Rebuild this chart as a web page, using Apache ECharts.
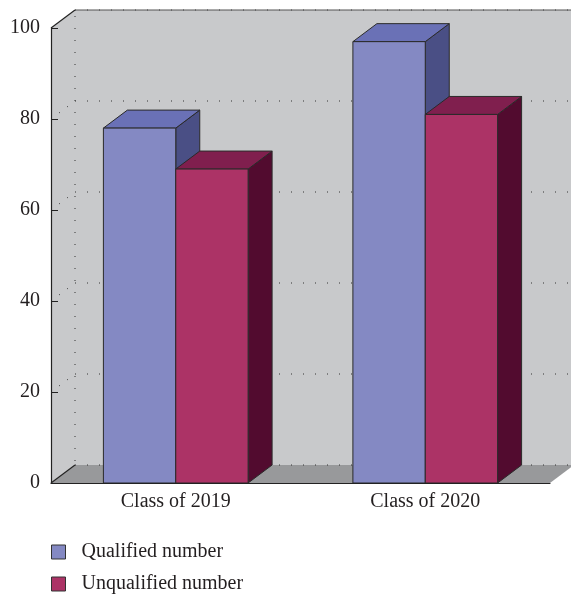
<!DOCTYPE html>
<html>
<head>
<meta charset="utf-8">
<script src="https://cdn.jsdelivr.net/npm/echarts@6/dist/echarts.min.js"></script>
<style>
  html, body { margin: 0; padding: 0; background: #fff; }
  #chart { width: 571px; height: 596px; }
</style>
</head>
<body>
<div id="chart"></div>
<script>
// Pass counts per graduating class
const categories = ['Class of 2019', 'Class of 2020'];
const qualified = [78, 97];
const unqualified = [69, 81];
const yTicks = [0, 20, 40, 60, 80, 100];

// Depth of the pseudo-3D box (px)
const DX = 24, DY = 18;
const FONT = '"Liberation Serif", "DejaVu Serif", serif';

const palettes = [
  { front: '#8489C3', top: '#6A71B6', side: '#4A4F85' },
  { front: '#AC3366', top: '#801F4E', side: '#520B2F' }
];
const EDGE = '#2a2a2a';

function poly(points, fill, stroke) {
  return {
    type: 'polygon',
    shape: { points: points },
    style: { fill: fill, stroke: stroke || null, lineWidth: stroke ? 1 : 0 }
  };
}
function line(x1, y1, x2, y2, stroke, width, dash) {
  return {
    type: 'line',
    shape: { x1: x1, y1: y1, x2: x2, y2: y2 },
    style: { stroke: stroke, lineWidth: width || 1, lineDash: dash || null, fill: null }
  };
}

// Back wall, side wall, floor and dotted grid
function renderWalls(params, api) {
  const cs = params.coordSys;
  const L = cs.x, R = cs.x + cs.width, T = cs.y, B = cs.y + cs.height;
  const children = [];
  children.push(poly([[L, T], [L + DX, T - DY], [L + DX, B - DY], [L, B]], '#C8C9CB'));
  children.push(poly([[L + DX, T - DY], [R + DX, T - DY], [R + DX, B - DY], [L + DX, B - DY]], '#C8C9CB'));
  children.push(poly([[L, B], [L + DX, B - DY], [R + DX, B - DY], [R, B]], '#98999B'));
  const dots = [1, 11];
  yTicks.forEach(function (v) {
    const y = api.coord([0, v])[1];
    children.push(line(L + DX, y - DY, R + DX, y - DY, '#333', 1, dots));
    if (v > 0 && v < 100) children.push(line(L, y, L + DX, y - DY, '#333', 1, [1, 9]));
  });
  children.push(line(L + DX, T - DY + 6, L + DX, B - DY, '#333', 1, dots));
  children.push(line(L + DX, T - DY, R + DX, T - DY, '#555', 1.2));
  children.push(line(L, T, L + DX, T - DY, '#222', 1.2));
  children.push(line(L, B, L + DX, B - DY, '#222', 1.2));
  return { type: 'group', children: children };
}

// One pseudo-3D bar: front face, top face, right side face
function makeBarRenderer(k) {
  return function (params, api) {
    const cat = api.value(0);
    const val = api.value(1);
    const c = api.coord([cat, val]);
    const base = api.coord([cat, 0])[1];
    const bw = api.size([1, 0])[0] * 0.29;
    const x1 = k === 0 ? c[0] - bw : c[0];
    const x2 = x1 + bw;
    const yt = c[1];
    const p = palettes[k];
    return {
      type: 'group',
      children: [
        poly([[x2, yt], [x2 + DX, yt - DY], [x2 + DX, base - DY], [x2, base]], p.side, EDGE),
        poly([[x1, yt], [x1 + DX, yt - DY], [x2 + DX, yt - DY], [x2, yt]], p.top, EDGE),
        poly([[x1, yt], [x2, yt], [x2, base], [x1, base]], p.front, EDGE)
      ]
    };
  };
}

const chart = echarts.init(document.getElementById('chart'), null, { renderer: 'canvas' });
chart.setOption({
  animation: false,
  backgroundColor: '#fff',
  grid: { left: 51, right: 21, top: 28, bottom: 113 },
  xAxis: {
    type: 'category',
    data: categories,
    z: 10,
    axisLine: { lineStyle: { color: '#222', width: 1.2 } },
    axisTick: { inside: true, length: 8, lineStyle: { color: '#222' } },
    axisLabel: { margin: 9, color: '#231f20', fontFamily: FONT, fontSize: 20 }
  },
  yAxis: {
    type: 'value',
    min: 0, max: 100, interval: 20,
    z: 10,
    axisLine: { show: true, lineStyle: { color: '#222', width: 1.2 } },
    axisTick: { show: true, inside: true, length: 7, lineStyle: { color: '#222' } },
    splitLine: { show: false },
    axisLabel: { margin: 11, color: '#231f20', fontFamily: FONT, fontSize: 20 }
  },
  legend: {
    orient: 'vertical',
    left: 51, top: 542,
    height: 54,
    padding: 0,
    itemWidth: 14, itemHeight: 14,
    itemGap: 12,
    icon: 'rect',
    data: ['Qualified number', 'Unqualified number'],
    textStyle: { fontFamily: FONT, fontSize: 20, color: '#231f20', padding: [0, 0, 0, 11] },
    itemStyle: { borderColor: '#333', borderWidth: 1 }
  },
  series: [
    {
      type: 'custom',
      renderItem: renderWalls,
      data: [[0, 0]],
      silent: true
    },
    {
      name: 'Qualified number',
      type: 'custom',
      renderItem: makeBarRenderer(0),
      itemStyle: { color: palettes[0].front },
      encode: { x: 0, y: 1 },
      data: qualified.map(function (v, i) { return [i, v]; })
    },
    {
      name: 'Unqualified number',
      type: 'custom',
      renderItem: makeBarRenderer(1),
      itemStyle: { color: palettes[1].front },
      encode: { x: 0, y: 1 },
      data: unqualified.map(function (v, i) { return [i, v]; })
    }
  ]
});
</script>
</body>
</html>
